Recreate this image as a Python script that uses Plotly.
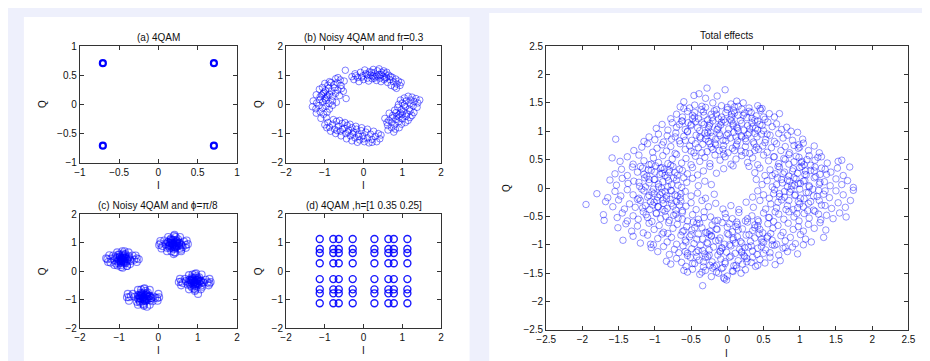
import plotly.graph_objects as go

# ---------------- data ----------------
# (a) clean 4QAM
a_I = [0.707, -0.707, -0.707, 0.707]
a_Q = [0.707, 0.707, -0.707, -0.707]

# (b) noisy 4QAM with frequency offset: (I, Q) pairs per cluster
b_left = [(-0.72,0.88),(-0.60,0.84),(-0.50,0.80),(-0.66,0.92),
 (-1.00,0.72),(-0.92,0.66),(-0.84,0.75),(-0.76,0.68),(-0.68,0.74),(-0.58,0.65),(-0.88,0.78),
 (-1.14,0.52),(-1.06,0.58),(-0.98,0.47),(-0.90,0.55),(-0.83,0.44),(-0.75,0.57),(-0.66,0.49),(-0.57,0.54),(-1.02,0.42),
 (-1.22,0.33),(-1.12,0.26),(-1.04,0.37),(-0.96,0.24),(-0.88,0.35),(-0.80,0.28),(-0.72,0.38),(-0.62,0.30),(-0.93,0.30),(-1.08,0.32),
 (-1.30,0.12),(-1.21,0.05),(-1.13,0.16),(-1.05,0.08),(-0.97,0.14),(-0.89,0.03),(-0.80,0.12),(-0.70,0.07),(-1.00,0.20),
 (-1.32,-0.08),(-1.23,-0.15),(-1.15,-0.04),(-1.06,-0.12),(-0.97,-0.06),(-0.88,-0.16),(-0.80,-0.03),
 (-1.22,-0.30),(-1.12,-0.25),(-1.03,-0.34),(-0.94,-0.27),
 (-1.10,-0.48),(-0.96,-0.45),(-0.47,1.17),(-0.52,0.45),(-0.45,0.20)]
b_top = [(-0.30,0.95),(-0.25,0.85),(-0.22,1.05),(-0.15,0.92),(-0.12,0.78),(-0.08,1.10),(-0.02,0.98),(0.00,0.85),(0.03,1.18),(0.06,1.05),(0.10,0.90),(0.13,0.80),(0.15,1.12),(0.18,1.00),(0.22,0.88),(0.25,1.20),(0.27,1.08),(0.30,0.95),(0.33,0.82),(0.36,1.15),(0.39,1.02),(0.42,0.90),(0.45,0.78),(0.47,1.10),(0.50,0.97),(0.53,0.85),(0.56,1.05),(0.59,0.92),(0.62,0.75),(0.65,1.00),(0.68,0.85),(0.71,0.65),(0.74,0.93),(0.77,0.78),(0.80,0.60),(0.83,0.87),(0.86,0.70),(0.90,0.80),(0.94,0.65),(0.97,0.75),(0.20,1.10),(0.35,0.98),(0.45,1.02),(0.28,0.90),(0.55,0.90),(0.10,1.02),(-0.05,0.93),(0.40,1.22),(0.60,1.10),(0.70,0.95),(0.85,0.55),(-0.20,0.98),(0.24,0.97),(0.52,1.15)]
b_right = [(1.35,0.20),(1.25,0.25),(1.15,0.28),(1.05,0.22),(0.95,0.15),
 (1.40,0.05),(1.30,0.10),(1.20,0.02),(1.10,0.12),(1.00,0.05),(0.90,0.00),
 (1.38,-0.10),(1.28,-0.05),(1.18,-0.15),(1.08,-0.08),(0.98,-0.18),(0.88,-0.10),(0.80,-0.20),
 (1.30,-0.28),(1.20,-0.22),(1.12,-0.32),(1.02,-0.25),(0.92,-0.35),(0.84,-0.28),(0.75,-0.38),(0.66,-0.30),
 (1.20,-0.45),(1.10,-0.40),(1.00,-0.50),(0.92,-0.44),(0.83,-0.52),(0.74,-0.46),(0.65,-0.55),
 (1.08,-0.62),(0.98,-0.68),(0.90,-0.60),(0.80,-0.70),(0.72,-0.62),(0.62,-0.72),
 (0.92,-0.80),(0.82,-0.85),(0.72,-0.80),(0.63,-0.88),(0.78,-0.95),
 (1.45,0.15),(1.22,0.15),(1.05,-0.02),(0.95,-0.30),(0.86,-0.40),(1.15,-0.55),(0.55,-0.48),(0.60,-0.62),(1.25,-0.38),(1.00,-0.35)]
b_bottom = [(-1.00,-0.70),(-0.92,-0.62),(-0.88,-0.78),(-0.80,-0.68),(-0.75,-0.85),(-0.70,-0.58),(-0.65,-0.75),(-0.60,-0.92),(-0.55,-0.65),(-0.50,-0.82),(-0.46,-1.00),(-0.42,-0.72),(-0.38,-0.88),(-0.34,-1.08),(-0.30,-0.80),(-0.26,-0.95),(-0.22,-1.15),(-0.18,-0.85),(-0.14,-1.02),(-0.10,-1.22),(-0.06,-0.90),(-0.02,-1.08),(0.02,-1.28),(0.06,-0.95),(0.10,-1.15),(0.14,-1.32),(0.18,-1.02),(0.22,-1.20),(0.26,-0.92),(0.30,-1.10),(0.34,-1.28),(0.38,-1.00),(0.42,-1.18),
 (-0.85,-0.92),(-0.72,-1.00),(-0.58,-1.08),(-0.44,-1.18),(-0.30,-1.25),(-0.16,-1.30),
 (-0.78,-0.52),(-0.62,-0.55),(-0.48,-0.62),(-0.35,-0.68),(-0.20,-0.75),(-0.05,-0.80),(0.10,-0.85),
 (-0.40,-0.95),(-0.28,-1.02),(-0.12,-1.10),(0.00,-1.18),(-0.55,-0.85),(-0.68,-0.90),(0.22,-1.30),(-0.95,-0.80),(0.45,-1.05)]

# (c) noisy 4QAM with phase offset pi/8
c_left_I = [-0.92,-0.85,-1.00,-0.78,-1.05,-0.95,-0.88,-1.12,-0.70,-0.98,-0.83,-0.90,-1.20,-0.62,-0.95,-1.02,-0.87,-0.75,-1.08,-0.93,-0.80,-1.30,-0.55,-0.99,-0.86,-0.91,-1.15,-0.72,-0.96,-0.84,-1.04,-0.89,-0.66,-1.22,-0.94]
c_left_Q = [0.40,0.45,0.35,0.42,0.48,0.30,0.55,0.38,0.36,0.50,0.28,0.62,0.44,0.40,0.22,0.58,0.33,0.52,0.27,0.47,0.18,0.42,0.45,0.40,0.70,0.12,0.55,0.25,0.36,0.60,0.20,0.48,0.55,0.30,0.43]
c_top_I = [0.38,0.45,0.30,0.52,0.25,0.42,0.35,0.60,0.18,0.40,0.48,0.33,0.70,0.10,0.44,0.28,0.55,0.37,0.22,0.50,0.39,0.65,0.05,0.46,0.32,0.58,0.36,0.41,0.27,0.53,0.43,0.15,0.62,0.34,0.47]
c_top_Q = [0.93,0.98,0.88,0.95,1.02,0.85,1.10,0.90,0.95,0.78,1.05,0.70,0.92,0.88,1.20,0.99,0.80,1.00,0.82,1.12,0.60,1.04,0.97,0.87,1.15,0.75,0.94,1.28,0.90,1.00,0.65,1.08,0.85,0.96,0.91]
c_right_I = [0.92,0.98,0.85,1.05,0.80,0.95,0.88,1.15,0.70,0.93,1.02,0.86,1.25,0.62,0.97,0.83,1.10,0.90,0.75,1.04,0.94,1.20,0.58,0.99,0.87,1.12,0.89,0.96,0.78,1.08,0.91,0.68,1.30,0.84,1.01]
c_right_Q = [-0.38,-0.33,-0.42,-0.36,-0.30,-0.45,-0.25,-0.40,-0.35,-0.52,-0.28,-0.58,-0.39,-0.42,-0.18,-0.34,-0.50,-0.32,-0.48,-0.22,-0.65,-0.30,-0.37,-0.44,-0.12,-0.55,-0.38,-0.08,-0.40,-0.35,-0.62,-0.27,-0.43,-0.31,-0.80]
c_bottom_I = [-0.38,-0.31,-0.45,-0.25,-0.50,-0.36,-0.42,-0.18,-0.60,-0.34,-0.28,-0.47,-0.08,-0.70,-0.33,-0.52,-0.20,-0.40,-0.55,-0.27,-0.37,-0.12,-0.75,-0.30,-0.44,-0.15,-0.41,-0.35,-0.48,-0.22,-0.39,-0.65,-0.03,-0.46,-0.29]
c_bottom_Q = [-0.92,-0.87,-0.97,-0.90,-0.85,-1.00,-0.78,-0.95,-0.90,-1.05,-0.82,-1.10,-0.93,-0.88,-0.70,-0.96,-1.02,-0.84,-1.08,-0.75,-1.18,-0.89,-0.92,-0.98,-0.65,-1.06,-0.91,-0.60,-0.94,-0.88,-1.15,-0.80,-0.95,-0.86,-1.25]
c_cores = [(-0.91,0.42),(-0.86,0.38),(-0.96,0.46),(-0.88,0.48),(-0.94,0.36),(-0.82,0.44),(-1.00,0.40),(-0.90,0.33),(-0.84,0.50),(-0.98,0.52),(-0.79,0.36),(-1.04,0.34),(-0.92,0.56),(-0.87,0.28),(-0.76,0.47),(-1.06,0.46),(-0.95,0.30),(-0.83,0.32),(-0.99,0.58),(-0.89,0.44),(-1.10,0.50),(-0.73,0.40),(-0.93,0.40),(-0.85,0.56),(-1.01,0.28),
 (0.39,0.95),(0.44,0.91),(0.34,0.99),(0.42,1.01),(0.36,0.89),(0.48,0.97),(0.30,0.93),(0.40,0.86),(0.46,1.03),(0.32,1.05),(0.51,0.89),(0.26,0.87),(0.38,1.09),(0.43,0.81),(0.54,1.00),(0.28,0.99),(0.35,0.83),(0.47,0.85),(0.31,1.11),(0.41,0.97),(0.24,1.03),(0.57,0.93),(0.37,0.93),(0.45,1.09),(0.29,0.81),
 (0.93,-0.38),(0.98,-0.42),(0.88,-0.34),(0.96,-0.32),(0.90,-0.44),(1.02,-0.36),(0.84,-0.40),(0.94,-0.47),(1.00,-0.30),(0.86,-0.28),(1.05,-0.44),(0.80,-0.46),(0.92,-0.24),(0.97,-0.52),(1.08,-0.33),(0.82,-0.34),(0.89,-0.50),(1.01,-0.48),(0.85,-0.22),(0.95,-0.36),(0.78,-0.30),(1.11,-0.40),(0.91,-0.40),(0.99,-0.24),(0.83,-0.52),
 (-0.37,-0.92),(-0.32,-0.96),(-0.42,-0.88),(-0.34,-0.86),(-0.40,-0.98),(-0.28,-0.90),(-0.46,-0.94),(-0.36,-1.01),(-0.30,-0.84),(-0.44,-0.82),(-0.25,-0.98),(-0.50,-1.00),(-0.38,-0.78),(-0.33,-1.06),(-0.22,-0.87),(-0.48,-0.88),(-0.41,-1.04),(-0.29,-1.02),(-0.45,-0.76),(-0.35,-0.90),(-0.52,-0.84),(-0.19,-0.94),(-0.39,-0.94),(-0.31,-0.78),(-0.47,-1.06)]
c_outer = [(-1.33,0.45),(-1.28,0.32),(-1.25,0.56),(-0.50,0.42),(-0.55,0.32),(-0.58,0.55),(-0.92,0.70),(-1.05,0.66),(-0.76,0.66),(-0.95,0.15),(-0.80,0.18),(-1.12,0.22),
 (0.02,0.92),(0.05,1.06),(0.08,0.80),(0.75,0.95),(0.72,1.08),(0.70,0.82),(0.40,1.24),(0.25,1.20),(0.55,1.20),(0.40,0.66),(0.22,0.70),(0.58,0.70),
 (0.52,-0.38),(0.55,-0.27),(0.58,-0.50),(1.33,-0.38),(1.30,-0.27),(1.28,-0.50),(0.93,-0.10),(0.78,-0.14),(1.10,-0.12),(0.93,-0.70),(0.78,-0.64),(1.08,-0.64),
 (-0.80,-0.92),(-0.78,-0.80),(-0.75,-1.04),(0.02,-0.92),(0.00,-0.80),(-0.02,-1.04),(-0.37,-0.62),(-0.22,-0.66),(-0.52,-0.66),(-0.37,-1.22),(-0.22,-1.18),(-0.52,-1.18)]

# (d) 4QAM through channel h=[1 0.35 0.25]: received I and Q levels
d_I_levels = [-1.13, -0.78, -0.64, -0.28, 0.28, 0.64, 0.78, 1.13]
d_Q_levels = [-1.13, -0.78, -0.64, -0.28, 0.28, 0.64, 0.78, 1.13]

# Total effects: (I, Q) pairs, grouped by Q band
tot_upper = [(-0.28,1.76),(-0.03,1.73),(-0.39,1.66),(-0.46,1.63),(-0.14,1.62),
 (-0.60,1.52),(-0.65,1.43),(-0.30,1.58),(-0.20,1.50),(-0.08,1.45),(0.05,1.48),(0.13,1.53),(0.22,1.50),(0.30,1.41),(0.42,1.45),(-0.45,1.46),(-0.52,1.41),(0.00,1.42),(-0.35,1.44),(0.48,1.40),(0.10,1.43),
 (-0.78,1.22),(-0.70,1.30),(-0.62,1.25),(-0.55,1.35),(-0.48,1.28),(-0.40,1.22),(-0.33,1.34),(-0.27,1.20),(-0.22,1.30),(-0.15,1.38),(-0.08,1.25),(-0.02,1.33),(0.04,1.21),(0.09,1.36),(0.15,1.28),(0.20,1.39),(0.27,1.24),(0.33,1.33),(0.40,1.27),(0.46,1.37),(0.52,1.21),(0.58,1.31),(0.65,1.25),(0.72,1.31),(-0.36,1.38),(-0.12,1.22),(0.06,1.30),(0.24,1.32),(-0.45,1.25),(0.38,1.20),
 (-0.98,1.05),(-0.90,1.12),(-0.82,1.02),(-0.76,1.15),(-0.70,1.07),(-0.63,1.18),(-0.58,1.03),(-0.50,1.10),(-0.44,1.17),(-0.38,1.01),(-0.32,1.12),(-0.26,1.06),(-0.20,1.18),(-0.14,1.03),(-0.09,1.11),(-0.03,1.16),(0.02,1.04),(0.08,1.13),(0.13,1.07),(0.18,1.19),(0.23,1.02),(0.28,1.10),(0.34,1.15),(0.39,1.05),(0.45,1.12),(0.50,1.01),(0.56,1.16),(0.62,1.08),(0.68,1.13),(0.75,1.03),(0.82,1.07),(0.88,1.00),(-0.66,1.12),(-0.24,1.13),(0.06,1.18),(0.31,1.04),(-0.12,1.08),(0.15,1.01),(0.42,1.18),(-0.54,1.15),
 (-1.54,0.86),(-1.15,0.82),(-1.08,0.90),(-1.00,0.85),(-0.95,0.95),(-0.88,0.81),(-0.83,0.92),(-0.77,0.86),(-0.71,0.97),(-0.66,0.83),(-0.60,0.91),(-0.55,0.99),(-0.49,0.84),(-0.43,0.93),(-0.37,0.88),(-0.31,0.97),(-0.26,0.82),(-0.21,0.91),(-0.16,0.86),(-0.11,0.96),(-0.06,0.84),(-0.01,0.93),(0.04,0.88),(0.09,0.98),(0.14,0.83),(0.19,0.92),(0.25,0.87),(0.30,0.97),(0.36,0.81),(0.41,0.90),(0.47,0.95),(0.53,0.85),(0.59,0.93),(0.65,0.82),(0.71,0.96),(0.77,0.88),(0.83,0.93),(0.90,0.84),(0.97,0.98),(1.04,0.86),(-0.28,0.92),(-0.23,0.98),(0.12,0.90),(0.38,0.96),(-0.72,0.90)]
tot_middle_up = [(-1.29,0.66),(-1.18,0.72),(-1.10,0.78),(-1.03,0.63),(-0.97,0.70),(-0.90,0.76),(-0.84,0.65),(-0.78,0.73),(-0.72,0.61),(-0.65,0.78),(-0.58,0.68),(-0.52,0.74),(-0.46,0.62),(-0.40,0.71),(-0.34,0.77),(-0.28,0.64),(-0.22,0.72),(-0.17,0.79),(-0.11,0.66),(-0.05,0.75),(0.01,0.62),(0.07,0.70),(0.13,0.77),(0.19,0.65),(0.25,0.73),(0.31,0.61),(0.37,0.78),(0.43,0.68),(0.49,0.74),(0.55,0.63),(0.61,0.71),(0.68,0.78),(0.74,0.66),(0.80,0.73),(0.86,0.62),(0.92,0.75),(0.98,0.70),(1.05,0.79),(1.12,0.66),(1.20,0.74),(1.27,0.62),(-0.24,0.78),(0.98,0.76),(1.00,0.72),(-0.06,0.68),
 (-1.59,0.53),(-1.48,0.47),(-1.38,0.55),(-1.30,0.42),(-1.22,0.58),(-1.15,0.48),(-1.08,0.41),(-1.02,0.53),(-0.95,0.45),(-0.89,0.57),(-0.82,0.43),(-0.76,0.51),(-0.70,0.59),(-0.63,0.44),(-0.57,0.52),(-0.50,0.41),(-0.44,0.56),(-0.38,0.47),(-0.31,0.54),(-0.24,0.43),(-0.17,0.58),(-0.10,0.49),(-0.03,0.55),(0.05,0.42),(0.12,0.51),(0.20,0.57),(0.28,0.45),(0.35,0.53),(0.42,0.41),(0.50,0.58),(0.57,0.48),(0.64,0.55),(0.71,0.43),(0.78,0.52),(0.85,0.59),(0.92,0.46),(0.99,0.54),(1.06,0.41),(1.13,0.57),(1.21,0.49),(1.30,0.55),(1.38,0.44),(1.53,0.47),(1.58,0.49),(1.03,0.47),
 (-1.55,0.25),(-1.46,0.33),(-1.38,0.22),(-1.31,0.37),(-1.24,0.28),(-1.17,0.35),(-1.11,0.21),(-1.05,0.31),(-0.99,0.39),(-0.93,0.24),(-0.87,0.33),(-0.81,0.27),(-0.75,0.38),(-0.69,0.22),(-0.62,0.31),(-0.55,0.25),(-0.48,0.36),(-0.41,0.23),(-0.33,0.30),(-0.24,0.38),(-0.15,0.26),(-0.05,0.34),(0.30,0.38),(0.38,0.27),(0.45,0.35),(0.52,0.22),(0.59,0.32),(0.66,0.25),(0.72,0.37),(0.79,0.28),(0.85,0.21),(0.91,0.34),(0.97,0.26),(1.03,0.38),(1.09,0.23),(1.15,0.31),(1.21,0.37),(1.28,0.24),(1.35,0.33),(1.43,0.28),(1.52,0.35),(1.60,0.22),(1.69,0.37),(0.08,0.39),(-0.90,0.36),
 (-1.62,0.14),(-1.53,0.05),(-1.45,0.17),(-1.37,0.08),(-1.29,0.12),(-1.21,0.03),(-1.14,0.18),(-1.08,0.09),(-1.01,0.15),(-0.95,0.02),(-0.89,0.11),(-0.83,0.19),(-0.77,0.06),(-0.70,0.14),(-0.63,0.01),(-0.56,0.10),(-0.48,0.17),(-0.40,0.04),(-0.31,0.12),(-0.22,0.06),(0.40,0.15),(0.48,0.06),(0.55,0.13),(0.62,0.02),(0.69,0.18),(0.76,0.09),(0.83,0.14),(0.89,0.04),(0.95,0.16),(1.01,0.08),(1.07,0.13),(1.13,0.02),(1.20,0.18),(1.27,0.07),(1.34,0.11),(1.42,0.04),(1.50,0.16),(1.58,0.06),(1.66,0.13),(1.74,0.01)]
tot_middle_low = [(-1.80,-0.10),(-1.65,-0.17),(-1.55,-0.06),(-1.47,-0.14),(-1.38,-0.03),(-1.30,-0.12),(-1.22,-0.18),(-1.15,-0.05),(-1.08,-0.13),(-1.02,-0.02),(-0.96,-0.16),(-0.90,-0.08),(-0.84,-0.19),(-0.78,-0.04),(-0.72,-0.12),(-0.65,-0.17),(-0.58,-0.06),(-0.50,-0.14),(-0.41,-0.09),(-0.30,-0.18),(-0.18,-0.11),(0.35,-0.16),(0.42,-0.05),(0.50,-0.12),(0.58,-0.18),(0.65,-0.03),(0.72,-0.10),(0.79,-0.16),(0.86,-0.07),(0.93,-0.13),(1.00,-0.02),(1.06,-0.19),(1.12,-0.08),(1.19,-0.14),(1.26,-0.04),(1.33,-0.11),(1.41,-0.17),(1.50,-0.05),(1.60,-0.12),(1.74,-0.04),
 (-1.95,-0.29),(-1.68,-0.24),(-1.58,-0.33),(-1.50,-0.21),(-1.42,-0.37),(-1.35,-0.28),(-1.27,-0.34),(-1.20,-0.22),(-1.13,-0.31),(-1.07,-0.38),(-1.01,-0.25),(-0.95,-0.33),(-0.89,-0.21),(-0.83,-0.36),(-0.77,-0.27),(-0.71,-0.39),(-0.64,-0.23),(-0.57,-0.32),(-0.50,-0.26),(-0.43,-0.38),(-0.35,-0.22),(-0.26,-0.33),(-0.16,-0.27),(-0.06,-0.37),(0.05,-0.31),(0.16,-0.38),(0.26,-0.25),(0.36,-0.34),(0.45,-0.22),(0.53,-0.37),(0.60,-0.28),(0.68,-0.35),(0.75,-0.21),(0.83,-0.31),(0.91,-0.38),(0.98,-0.24),(1.05,-0.33),(1.12,-0.27),(1.19,-0.39),(1.27,-0.22),(1.35,-0.31),(1.44,-0.36),(1.53,-0.26),(1.63,-0.34),(1.70,-0.22),
 (-1.71,-0.47),(-1.70,-0.57),(-1.52,-0.52),(-1.45,-0.44),(-1.38,-0.58),(-1.30,-0.49),(-1.23,-0.55),(-1.16,-0.42),(-1.10,-0.52),(-1.04,-0.59),(-0.98,-0.45),(-0.92,-0.54),(-0.86,-0.41),(-0.80,-0.57),(-0.74,-0.48),(-0.68,-0.53),(-0.62,-0.43),(-0.55,-0.58),(-0.48,-0.47),(-0.40,-0.55),(-0.32,-0.42),(-0.23,-0.51),(-0.13,-0.57),(-0.03,-0.45),(0.07,-0.54),(0.16,-0.43),(0.25,-0.58),(0.34,-0.49),(0.42,-0.56),(0.50,-0.44),(0.57,-0.52),(0.64,-0.59),(0.71,-0.46),(0.78,-0.55),(0.85,-0.42),(0.92,-0.51),(0.99,-0.58),(1.06,-0.45),(1.13,-0.53),(1.21,-0.41),(1.29,-0.56),(1.37,-0.48),(1.46,-0.54),(1.64,-0.51),(1.55,-0.44),
 (-1.51,-0.70),(-1.40,-0.63),(-1.32,-0.76),(-1.24,-0.67),(-1.16,-0.79),(-1.08,-0.62),(-1.01,-0.73),(-0.94,-0.66),(-0.88,-0.78),(-0.81,-0.61),(-0.75,-0.71),(-0.69,-0.64),(-0.62,-0.77),(-0.56,-0.68),(-0.49,-0.74),(-0.42,-0.62),(-0.35,-0.70),(-0.28,-0.79),(-0.21,-0.65),(-0.14,-0.73),(-0.07,-0.61),(0.00,-0.69),(0.07,-0.77),(0.14,-0.64),(0.21,-0.72),(0.28,-0.60),(0.35,-0.75),(0.42,-0.67),(0.49,-0.79),(0.56,-0.63),(0.63,-0.71),(0.70,-0.66),(0.77,-0.78),(0.84,-0.62),(0.91,-0.73),(0.98,-0.68),(1.05,-0.76),(1.12,-0.64),(1.20,-0.71),(1.28,-0.61),(1.36,-0.74),(-0.24,-0.76),(0.03,-0.63),(0.38,-0.70),(-0.82,-0.80)]
tot_lower = [(-1.44,-0.92),(-1.30,-0.85),(-1.20,-0.97),(-1.10,-0.83),(-1.02,-1.00),(-0.96,-0.89),(-0.90,-0.81),(-0.83,-0.95),(-0.77,-0.87),(-0.70,-0.99),(-0.64,-0.83),(-0.58,-0.92),(-0.52,-0.86),(-0.46,-0.98),(-0.40,-0.81),(-0.34,-0.90),(-0.28,-0.96),(-0.22,-0.84),(-0.16,-0.93),(-0.10,-0.88),(-0.04,-0.99),(0.02,-0.82),(0.08,-0.91),(0.14,-0.86),(0.20,-0.97),(0.26,-0.83),(0.32,-0.94),(0.38,-0.88),(0.44,-0.81),(0.50,-0.96),(0.56,-0.85),(0.62,-0.92),(0.68,-0.99),(0.74,-0.84),(0.80,-0.93),(0.87,-0.87),(0.94,-0.98),(1.01,-0.82),(1.08,-0.90),(1.16,-0.95),(1.33,-0.87),(-1.06,-0.99),(-0.25,-0.82),(0.11,-0.97),(0.47,-0.90),
 (-1.05,-1.05),(-0.96,-1.12),(-0.88,-1.03),(-0.80,-1.17),(-0.73,-1.08),(-0.67,-1.14),(-0.61,-1.02),(-0.55,-1.19),(-0.49,-1.07),(-0.43,-1.13),(-0.37,-1.01),(-0.31,-1.16),(-0.25,-1.09),(-0.19,-1.04),(-0.13,-1.18),(-0.07,-1.06),(-0.01,-1.13),(0.05,-1.02),(0.11,-1.15),(0.17,-1.08),(0.23,-1.19),(0.29,-1.04),(0.35,-1.11),(0.41,-1.17),(0.47,-1.03),(0.53,-1.09),(0.59,-1.14),(0.65,-1.01),(0.71,-1.18),(0.77,-1.06),(0.83,-1.12),(0.90,-1.04),(0.97,-1.16),(1.05,-1.00),(-0.34,-1.10),(-0.10,-1.11),(0.20,-1.12),(-0.58,-1.12),(0.42,-1.06),(0.80,-1.05),
 (-0.84,-1.29),(-0.78,-1.34),(-0.70,-1.24),(-0.63,-1.31),(-0.57,-1.38),(-0.51,-1.22),(-0.45,-1.33),(-0.39,-1.27),(-0.33,-1.39),(-0.27,-1.21),(-0.21,-1.30),(-0.15,-1.36),(-0.09,-1.25),(-0.03,-1.33),(0.03,-1.22),(0.09,-1.37),(0.15,-1.28),(0.21,-1.34),(0.27,-1.24),(0.33,-1.31),(0.39,-1.38),(0.45,-1.26),(0.52,-1.32),(0.59,-1.22),(0.66,-1.35),(0.73,-1.28),(-0.42,-1.21),(-0.06,-1.40),(0.24,-1.21),(-0.24,-1.36),
 (-0.55,-1.48),(-0.48,-1.43),(-0.38,-1.52),(-0.30,-1.45),(-0.22,-1.56),(-0.15,-1.48),(-0.08,-1.42),(0.00,-1.55),(0.07,-1.46),(0.13,-1.41),(0.25,-1.44),(-0.05,-1.58),(-0.60,-1.45),(-0.20,-1.41),(0.19,-1.50),
 (-0.34,-1.72),(-0.04,-1.60),(-0.01,-1.62)]
tot_left_core = [(-1.20,0.38),(-1.05,0.42),(-0.92,0.35),(-0.78,0.40),(-0.66,0.33),(-1.15,0.24),(-1.00,0.28),(-0.86,0.22),(-0.72,0.27),(-1.22,0.10),(-1.08,0.15),(-0.95,0.07),(-0.81,0.13),(-0.68,0.05),(-0.60,0.18),(-1.18,-0.02),(-1.04,-0.07),(-0.91,0.00),(-0.77,-0.05),(-0.64,-0.10),(-1.24,-0.20),(-1.10,-0.16),(-0.97,-0.22),(-0.84,-0.14),(-0.70,-0.24),(-1.17,-0.35),(-1.03,-0.30),(-0.89,-0.38),(-0.75,-0.32),(-0.62,-0.40),(-1.12,-0.47),(-0.98,-0.44),(-0.85,-0.50),(-0.71,-0.46),(-0.93,-0.12),(-0.88,-0.27),(-1.00,0.15),(-0.82,0.02),(-0.74,0.18),(-1.13,0.02),(-0.96,-0.33),(-0.79,-0.20),(-1.06,-0.24),(-0.90,0.26),(-0.69,-0.14),(-0.86,-0.06),(-1.01,-0.10),(-0.80,0.32),(-1.09,0.32),(-0.66,-0.30)]
tot_top_core = [(-0.60,1.40),(-0.45,1.33),(-0.30,1.42),(-0.15,1.30),(0.00,1.38),(0.15,1.44),(0.30,1.35),(0.45,1.40),
 (-0.62,1.18),(-0.48,1.22),(-0.35,1.15),(-0.21,1.24),(-0.08,1.16),(0.06,1.25),(0.20,1.14),(0.34,1.23),(0.48,1.10),
 (-0.55,1.00),(-0.41,1.06),(-0.27,0.98),(-0.13,1.04),(0.01,0.96),(0.14,1.05),(0.28,0.94),(0.42,1.02),(0.55,0.95),
 (-0.58,0.84),(-0.44,0.78),(-0.30,0.86),(-0.16,0.76),(-0.02,0.83),(0.12,0.74),(0.26,0.82),(0.40,0.72),(0.52,0.80),
 (-0.50,0.65),(-0.35,0.62),(-0.20,0.68),(-0.05,0.60),(0.10,0.66),(0.25,0.62),(0.38,0.66),
 (-0.25,1.10),(-0.10,0.92),(0.08,1.10),(0.20,0.90),(-0.38,0.90),(0.35,1.08),(-0.18,1.36),(0.10,1.32),(-0.50,1.12),(0.50,1.25),(-0.05,1.20),(0.22,1.28),(-0.32,1.28)]
tot_right_core = [(0.65,0.55),(0.80,0.50),(0.95,0.56),(1.10,0.50),(1.25,0.54),(0.70,0.38),(0.85,0.42),(1.00,0.36),(1.15,0.40),(1.30,0.35),(0.62,0.22),(0.77,0.25),(0.92,0.18),(1.07,0.24),(1.22,0.20),(1.37,0.24),(0.68,0.06),(0.83,0.02),(0.98,0.08),(1.13,0.04),(1.28,0.10),(0.64,-0.10),(0.79,-0.06),(0.94,-0.12),(1.09,-0.08),(1.24,-0.15),(0.70,-0.25),(0.85,-0.22),(1.00,-0.28),(1.15,-0.24),(1.30,-0.30),(0.66,-0.42),(0.81,-0.38),(0.96,-0.45),(1.11,-0.40),(1.26,-0.46),(0.90,0.30),(1.05,0.12),(0.88,-0.02),(1.18,-0.02),(1.02,0.45),(0.75,0.15),(0.97,-0.35),(1.20,0.30),(0.72,-0.15),(1.35,-0.05),(1.08,0.30),(0.86,0.12),(1.01,-0.18),(0.93,0.05)]
tot_bottom_core = [(-0.62,-0.55),(-0.47,-0.60),(-0.32,-0.52),(-0.17,-0.58),(-0.02,-0.52),(0.13,-0.60),(0.28,-0.54),(0.43,-0.59),(0.58,-0.52),
 (-0.60,-0.75),(-0.45,-0.70),(-0.30,-0.78),(-0.15,-0.72),(0.00,-0.80),(0.15,-0.74),(0.30,-0.82),(0.45,-0.73),(0.60,-0.80),
 (-0.57,-0.95),(-0.42,-0.90),(-0.27,-0.98),(-0.12,-0.92),(0.03,-1.00),(0.18,-0.94),(0.33,-1.02),(0.48,-0.95),(0.62,-1.00),
 (-0.55,-1.15),(-0.40,-1.10),(-0.25,-1.18),(-0.10,-1.12),(0.05,-1.20),(0.20,-1.14),(0.35,-1.22),(0.50,-1.15),
 (-0.48,-1.33),(-0.33,-1.30),(-0.18,-1.38),(-0.03,-1.30),(0.12,-1.36),(0.27,-1.30),(0.42,-1.36),
 (-0.35,-1.48),(-0.12,-1.50),(0.08,-1.47),
 (-0.22,-0.85),(0.08,-0.88),(0.38,-0.65),(-0.38,-0.62),(0.24,-1.05),(-0.08,-1.05),(-0.50,-0.82),(0.55,-0.88),(0.12,-0.68),(-0.30,-1.22)]

# tick labels
ticks_a = [-1, -0.5, 0, 0.5, 1]
ticks_bcd = [-2, -1, 0, 1, 2]
ticks_total = [-2.5, -2, -1.5, -1, -0.5, 0, 0.5, 1, 1.5, 2, 2.5]

titles = ["(a) 4QAM", "(b) Noisy 4QAM and fr=0.3", "(c) Noisy 4QAM and \u03d5=\u03c0/8",
          "(d) 4QAM ,h=[1 0.35 0.25]", "Total effects"]

# ---------------- figure ----------------
W, H = 930, 361
FONT = "Liberation Sans, Arial, sans-serif"

def px_x(p):
    return p / W

def px_y(p):
    return 1 - p / H

def unzip(pairs):
    return [p[0] for p in pairs], [p[1] for p in pairs]

def blue(alpha):
    return "rgba(0,0,255,%s)" % alpha

fig = go.Figure()

boxes = {
    "1": (63, 223, 34, 154),
    "2": (273, 431, 34, 154),
    "3": (63, 223, 207, 324),
    "4": (273, 431, 207, 324),
    "5": (538, 907, 34, 326),
}
ranges = {"1": [-1, 1], "2": [-2, 2], "3": [-2, 2], "4": [-2, 2], "5": [-2.5, 2.5]}
tickv = {"1": ticks_a, "2": ticks_bcd, "3": ticks_bcd, "4": ticks_bcd, "5": ticks_total}

def add(xs, ys, k, size=6, width=1.0, alpha=1.0):
    xa = "x" if k == "1" else "x" + k
    ya = "y" if k == "1" else "y" + k
    fig.add_trace(go.Scatter(
        x=xs, y=ys, mode="markers", xaxis=xa, yaxis=ya, showlegend=False,
        hoverinfo="skip",
        marker=dict(symbol="circle-open", size=size, color=blue(alpha),
                    line=dict(width=width, color=blue(alpha)))))

# (a)
add(a_I, a_Q, "1", size=6, width=2.2, alpha=1.0)
# (b)
bx, by = unzip(b_left + b_top + b_right + b_bottom)
add(bx, by, "2", size=6.5, width=1, alpha=0.5)
# (c)
ccx, ccy = unzip(c_cores + c_outer)
add(c_left_I + c_top_I + c_right_I + c_bottom_I + ccx,
    c_left_Q + c_top_Q + c_right_Q + c_bottom_Q + ccy, "3", size=7, width=1.1, alpha=0.5)
# (d)
d_I = [i for q in d_Q_levels for i in d_I_levels]
d_Q = [q for q in d_Q_levels for i in d_I_levels]
add(d_I, d_Q, "4", size=7, width=1.4, alpha=0.9)
# total
tx, ty = unzip(tot_upper + tot_middle_up + tot_middle_low + tot_lower +
               tot_left_core + tot_top_core + tot_right_core + tot_bottom_core)
add(tx, ty, "5", size=6.5, width=1, alpha=0.42)

layout = dict(
    width=W, height=H, margin=dict(l=0, r=0, t=0, b=0),
    paper_bgcolor="#eef0fc", plot_bgcolor="white",
    font=dict(family=FONT, size=10, color="#111111"),
    showlegend=False,
)
for k, (l, r, t, b) in boxes.items():
    xk = "xaxis" if k == "1" else "xaxis" + k
    yk = "yaxis" if k == "1" else "yaxis" + k
    ya_ref = "y" if k == "1" else "y" + k
    xa_ref = "x" if k == "1" else "x" + k
    common = dict(showgrid=False, zeroline=False, showline=True, linecolor="#333333",
                  linewidth=1, mirror="ticks", ticks="inside", ticklen=4,
                  tickcolor="#333333", tickwidth=1,
                  tickfont=dict(family=FONT, size=10, color="#111111"),
                  tickmode="array", fixedrange=True)
    layout[xk] = dict(common, domain=[px_x(l), px_x(r)], range=ranges[k],
                      tickvals=tickv[k], anchor=ya_ref)
    layout[yk] = dict(common, domain=[px_y(b), px_y(t)], range=ranges[k],
                      tickvals=tickv[k], anchor=xa_ref)

fig.update_layout(**layout)

# white panels behind the charts
fig.add_shape(type="rect", xref="paper", yref="paper", x0=px_x(6), x1=px_x(460),
              y0=0, y1=px_y(4), fillcolor="white", line=dict(width=0), layer="below")
fig.add_shape(type="rect", xref="paper", yref="paper", x0=px_x(480), x1=1,
              y0=0, y1=1, fillcolor="white", line=dict(width=0), layer="below")

# titles and axis labels
title_pos = [(143, 25), (352, 25), (143, 198), (352, 198), (722, 23)]
for (cx, cy), txt in zip(title_pos, titles):
    fig.add_annotation(text=txt, x=px_x(cx), y=px_y(cy), xref="paper", yref="paper",
                       showarrow=False, font=dict(family=FONT, size=10, color="#111111"),
                       xanchor="center", yanchor="middle")
xl_pos = [(143, 177), (352, 177), (143, 347), (352, 347), (722, 350)]
for cx, cy in xl_pos:
    fig.add_annotation(text="I", x=px_x(cx), y=px_y(cy), xref="paper", yref="paper",
                       showarrow=False, font=dict(family=FONT, size=10, color="#111111"),
                       xanchor="center", yanchor="middle")
yl_pos = [(25, 94), (245, 94), (25, 266), (245, 266), (497, 180)]
for cx, cy in yl_pos:
    fig.add_annotation(text="Q", x=px_x(cx), y=px_y(cy), xref="paper", yref="paper",
                       showarrow=False, textangle=-90,
                       font=dict(family=FONT, size=10, color="#111111"),
                       xanchor="center", yanchor="middle")

fig.write_html("out.html", config={"displayModeBar": False})
